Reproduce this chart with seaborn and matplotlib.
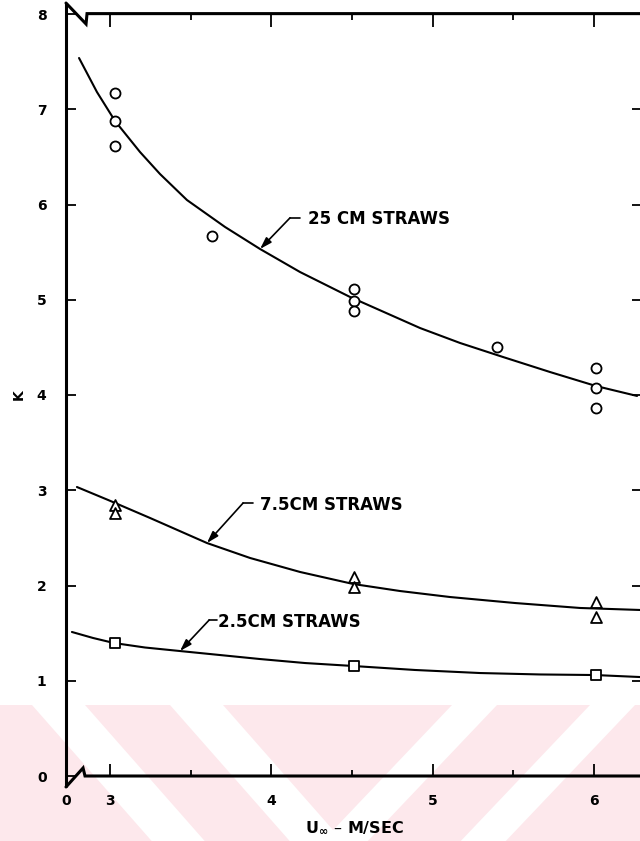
import matplotlib
matplotlib.use("Agg")
import matplotlib.pyplot as plt
from matplotlib.patches import Polygon
import numpy as np
import pandas as pd
import seaborn as sns

# ---- measured loss coefficients ----
u_25cm = [3.03, 3.03, 3.03, 3.63, 4.51, 4.51, 4.51, 5.40, 6.01, 6.01, 6.01]
k_25cm = [7.17, 6.88, 6.61, 5.67, 5.11, 4.99, 4.88, 4.50, 4.28, 4.07, 3.86]
u_75cm = [3.03, 3.03, 4.51, 4.51, 6.01, 6.01]
k_75cm = [2.85, 2.76, 2.09, 1.98, 1.83, 1.67]
u_2p5cm = [3.03, 4.51, 6.01]
k_2p5cm = [1.40, 1.15, 1.06]

# ---- faired curves ----
fit_u_25cm = [2.808, 2.919, 3.031, 3.186, 3.310, 3.477, 3.713, 3.930, 4.178, 4.488,
              4.922, 5.170, 5.436, 5.728, 6.013, 6.267]
fit_k_25cm = [7.538, 7.181, 6.877, 6.551, 6.320, 6.047, 5.764, 5.533, 5.291, 5.029,
              4.703, 4.546, 4.399, 4.241, 4.094, 3.990]
fit_u_75cm = [2.795, 2.988, 3.248, 3.601, 3.868, 4.178, 4.507, 4.798, 5.108, 5.511, 5.914, 6.286]
fit_k_75cm = [3.034, 2.898, 2.709, 2.446, 2.289, 2.142, 2.016, 1.942, 1.879, 1.816, 1.764, 1.743]
fit_u_2p5cm = [2.764, 2.895, 3.025, 3.217, 3.434, 3.930, 4.209, 4.507, 4.891, 5.294, 5.666, 6.007, 6.286]
fit_k_2p5cm = [1.512, 1.449, 1.396, 1.349, 1.312, 1.228, 1.186, 1.155, 1.113, 1.081, 1.066, 1.060, 1.039]

curve_labels = ["25 CM STRAWS", "7.5CM STRAWS", "2.5CM STRAWS"]
x_ticks = [3, 4, 5, 6]
x_minor = [3.5, 4.5, 5.5]
y_ticks = [0, 1, 2, 3, 4, 5, 6, 7, 8]

pts = pd.concat([
    pd.DataFrame({"U": u_25cm, "K": k_25cm, "set": "25"}),
    pd.DataFrame({"U": u_75cm, "K": k_75cm, "set": "7.5"}),
    pd.DataFrame({"U": u_2p5cm, "K": k_2p5cm, "set": "2.5"}),
], ignore_index=True)
fits = pd.concat([
    pd.DataFrame({"U": fit_u_25cm, "K": fit_k_25cm, "set": "25"}),
    pd.DataFrame({"U": fit_u_75cm, "K": fit_k_75cm, "set": "7.5"}),
    pd.DataFrame({"U": fit_u_2p5cm, "K": fit_k_2p5cm, "set": "2.5"}),
], ignore_index=True)

sns.set_style("white")
plt.rcParams["font.family"] = ["DejaVu Sans"]
plt.rcParams["font.weight"] = "bold"
plt.rcParams["mathtext.default"] = "bf"
plt.rcParams["text.color"] = "black"
plt.rcParams["axes.labelcolor"] = "black"
plt.rcParams["xtick.color"] = "black"
plt.rcParams["ytick.color"] = "black"

W, H = 640, 841
fig = plt.figure(figsize=(W / 100, H / 100), dpi=100)


def fx(px):
    return px / W


def fy(py):
    return 1 - py / H


# light pink diagonal banding across the foot of the page
pink = "#fde8ec"
top_y, bot_y = 705, 841
fig.patches.append(Polygon([(fx(0), fy(top_y)), (fx(W), fy(top_y)), (fx(W), fy(bot_y)), (fx(0), fy(bot_y))],
                           closed=True, transform=fig.transFigure, facecolor=pink, edgecolor="none", zorder=0))
dy = bot_y - top_y
for x0 in [32, 170]:
    s = 0.88 * dy
    fig.patches.append(Polygon([(fx(x0), fy(top_y)), (fx(x0 + 53), fy(top_y)),
                                (fx(x0 + 53 + s), fy(bot_y)), (fx(x0 + s), fy(bot_y))],
                               closed=True, transform=fig.transFigure, facecolor="white",
                               edgecolor="none", zorder=0.5))
for x0 in [452, 590]:
    s = 0.95 * dy
    fig.patches.append(Polygon([(fx(x0), fy(top_y)), (fx(x0 + 45), fy(top_y)),
                                (fx(x0 + 45 - s), fy(bot_y)), (fx(x0 - s), fy(bot_y))],
                               closed=True, transform=fig.transFigure, facecolor="white",
                               edgecolor="none", zorder=0.5))

left_px, right_px, top_px, bottom_px = 66, 642, 14, 776
ax = fig.add_axes([fx(left_px), fy(bottom_px), (right_px - left_px) / W, (bottom_px - top_px) / H])
ax.patch.set_alpha(0)
ax.set_zorder(2)

x_per_px = 1 / 161.3
xmin = 3 - (110 - left_px) * x_per_px
xmax = 6 + (right_px - 594) * x_per_px
ax.set_xlim(xmin, xmax)
ax.set_ylim(0, 8)

sns.lineplot(data=fits, x="U", y="K", units="set", estimator=None, sort=False,
             color="black", lw=1.5, ax=ax, legend=False)
markers = {"25": "o", "7.5": "^", "2.5": "s"}
sizes = {"25": 52, "7.5": 62, "2.5": 48}
for key, grp in pts.groupby("set"):
    sns.scatterplot(data=grp, x="U", y="K", marker=markers[key], s=sizes[key],
                    facecolor="white", edgecolor="black", linewidth=1.3, ax=ax,
                    zorder=5, legend=False)

# leader arrows and labels
tips = [(fit_u_25cm[7], fit_k_25cm[7]), (fit_u_75cm[3], fit_k_75cm[3]), (fit_u_2p5cm[4], fit_k_2p5cm[4])]
corners = [(4.116, 5.86), (3.825, 2.866), (3.615, 1.638)]
stub_ends = [(4.178, 5.86), (3.887, 2.866), (3.663, 1.638)]
text_pos = [(4.228, 5.845), (3.93, 2.845), (3.668, 1.617)]
for lab, tip, cor, stub, tp in zip(curve_labels, tips, corners, stub_ends, text_pos):
    ax.annotate("", xy=tip, xytext=cor,
                arrowprops=dict(arrowstyle="-|>,head_length=0.7,head_width=0.22", color="black",
                                lw=1.2, shrinkA=0, shrinkB=0))
    ax.plot([cor[0], stub[0]], [cor[1], stub[1]], color="black", lw=1.2)
    ax.text(tp[0], tp[1], lab, ha="left", va="center", fontsize=12, fontweight="bold")

# frame with axis-break marks
for s in ["left", "top", "bottom"]:
    ax.spines[s].set_visible(False)
ax.spines["right"].set_linewidth(2.2)
lw_frame = 2.2
ax.plot([0, 0], [-0.0144, 1.0144], transform=ax.transAxes, color="black", lw=lw_frame,
        clip_on=False, solid_capstyle="butt")
ax.plot([0.0, 0.0348, 0.0365, 1.0], [1.0144, 0.9869, 1.0005, 1.0005], transform=ax.transAxes,
        color="black", lw=lw_frame, clip_on=False, solid_joinstyle="miter")
ax.plot([0.0, 0.0296, 0.033, 1.0], [-0.0144, 0.0105, 0.0, 0.0], transform=ax.transAxes,
        color="black", lw=lw_frame, clip_on=False, solid_joinstyle="miter")

ax.set_xticks([xmin] + x_ticks)
ax.set_xticklabels(["0"] + [str(v) for v in x_ticks])
ax.set_xticks(x_minor, minor=True)
ax.set_yticks(y_ticks)
ax.set_yticklabels([str(v) for v in y_ticks])
ax.tick_params(axis="x", which="major", direction="in", length=9, width=1.3, pad=13,
               labelsize=10, top=True, bottom=True)
ax.tick_params(axis="x", which="minor", direction="in", length=4, width=1.3, top=True, bottom=True)
ax.tick_params(axis="y", which="major", direction="in", length=7, width=1.3, pad=14,
               labelsize=10, left=True, right=True)
for lab in ax.get_xticklabels() + ax.get_yticklabels():
    lab.set_fontweight("bold")

ax.set_xlabel(r"U$_{\infty}$ – M/SEC", fontsize=11.5, fontweight="bold", labelpad=8)
ax.set_ylabel("K", fontsize=10, fontweight="bold", labelpad=8)

fig.savefig("out.png", dpi=100)
